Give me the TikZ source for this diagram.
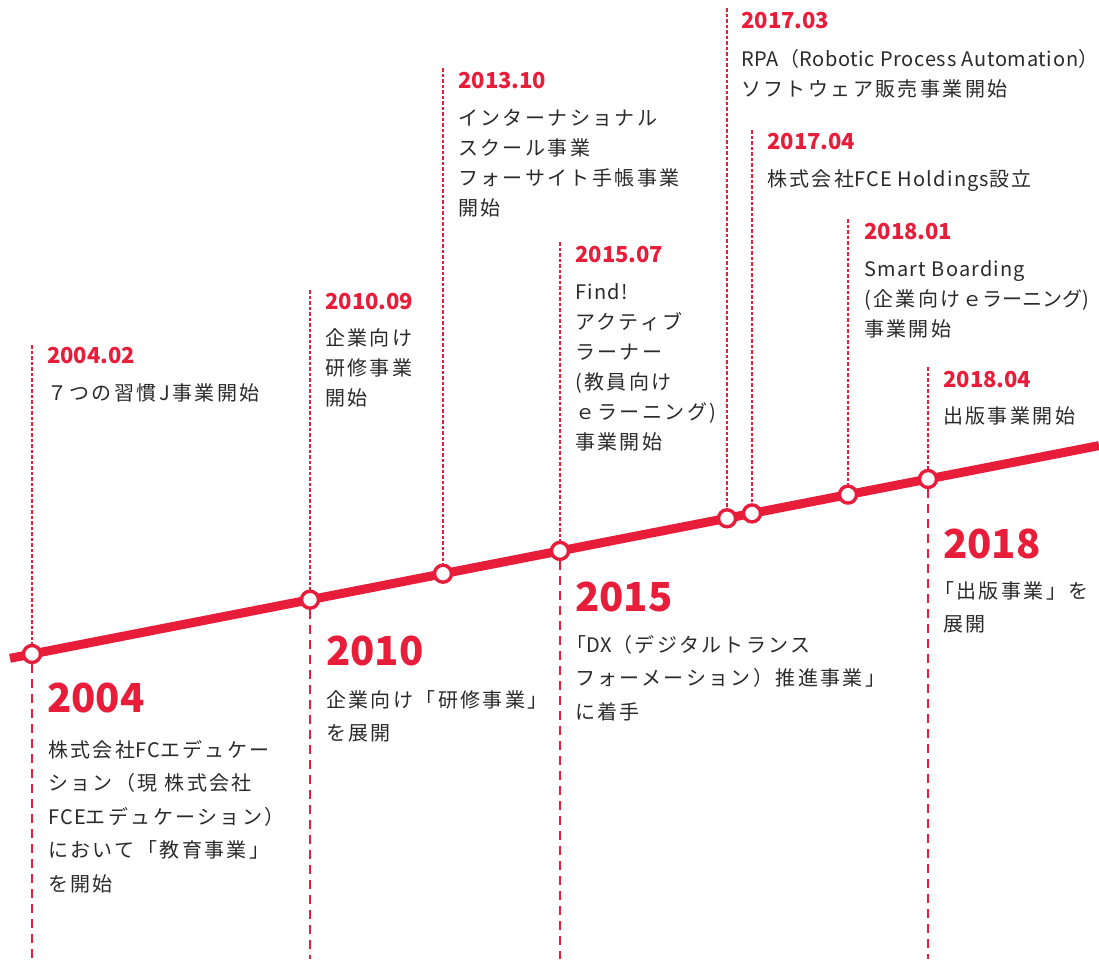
\documentclass[tikz,border=0pt]{standalone}
\usepackage{fontspec}
\setmainfont{Noto Sans CJK JP}
\newfontfamily\bodyfont[LetterSpace=12]{Noto Sans CJK JP}
\newfontfamily\latinfont[LetterSpace=6]{Noto Sans CJK JP}
\newfontfamily\latintight[LetterSpace=3.5]{Noto Sans CJK JP}
\newfontfamily\plainfont{Noto Sans CJK JP}
\newcommand\ltn[1]{{\latinfont #1}}
\newcommand\ltt[1]{{\latintight #1}}
\newcommand\pln[1]{{\plainfont #1}}
\usetikzlibrary{backgrounds}
\definecolor{tred}{HTML}{E71D3A}
\definecolor{ttext}{HTML}{2A2A2A}
\tikzset{
  dot/.style={circle, draw=tred, fill=white, line width=3.4pt, minimum size=17pt, inner sep=0pt},
  mainline/.style={draw=tred, line width=9pt},
  updash/.style={draw=tred, line width=1.3pt, dash pattern=on 3.5pt off 2pt},
  downdash/.style={draw=tred, line width=2.6pt, dash pattern=on 9pt off 6pt},
  datelbl/.style={anchor=base west, inner sep=0pt, text=tred, font=\fontsize{22}{22}\selectfont\bfseries},
  yearlbl/.style={anchor=base west, inner sep=0pt, text=tred, font=\fontsize{40}{40}\selectfont\bfseries},
  uptext/.style={anchor=base west, inner sep=0pt, text=ttext, align=left, font=\bodyfont\fontsize{20}{30}\selectfont},
  downtext/.style={anchor=base west, inner sep=0pt, text=ttext, align=left, font=\bodyfont\fontsize{20}{33.5}\selectfont},
}
\begin{document}
\begin{tikzpicture}[x=1pt, y=-1pt]
\useasboundingbox (0,0) rectangle (1099,959);
% main line end points
\coordinate (L) at (10,658.3);
\coordinate (R) at (1099,445.6);
% dots on the line
\node[dot] (c04) at (32,654.0) {};
\node[dot] (c10) at (310,599.7) {};
\node[dot] (c13) at (443,573.7) {};
\node[dot] (c15) at (560,550.9) {};
\node[dot] (c1703) at (727,518.3) {};
\node[dot] (c1704) at (752,513.4) {};
\node[dot] (c1801) at (848,494.6) {};
\node[dot] (c1804) at (928,479.0) {};
% top ends of upper dashed lines
\coordinate (t04) at (32,345);
\coordinate (t10) at (310,290);
\coordinate (t13) at (443,68);
\coordinate (t15) at (560,242);
\coordinate (t1703) at (727,8);
\coordinate (t1704) at (752,130);
\coordinate (t1801) at (848,219);
\coordinate (t1804) at (928,367);
% bottom ends of lower dashed lines
\coordinate (b04) at (32,959);
\coordinate (b10) at (310,959);
\coordinate (b15) at (560,959);
\coordinate (b18) at (928,959);
\begin{scope}[on background layer]
  \draw[updash] (t04) -- (c04.center);
  \draw[updash] (t10) -- (c10.center);
  \draw[updash] (t13) -- (c13.center);
  \draw[updash] (t15) -- (c15.center);
  \draw[updash] (t1703) -- (c1703.center);
  \draw[updash] (t1704) -- (c1704.center);
  \draw[updash] (t1801) -- (c1801.center);
  \draw[updash] (t1804) -- (c1804.center);
  \draw[downdash] (c04) -- (b04);
  \draw[downdash] (c10) -- (b10);
  \draw[downdash] (c15) -- (b15);
  \draw[downdash] (c1804) -- (b18);
  \draw[mainline] (L) -- (R);
\end{scope}
% date labels
\node[datelbl] (d0402) at (47,363) {2004.02};
\node[datelbl] (d1009) at (325,309) {2010.09};
\node[datelbl] (d1310) at (458,88) {2013.10};
\node[datelbl] (d1507) at (575,262) {2015.07};
\node[datelbl] (d1703) at (741,28) {2017.03};
\node[datelbl] (d1704) at (767,149) {2017.04};
\node[datelbl] (d1801) at (864,239) {2018.01};
\node[datelbl] (d1804) at (943,387) {2018.04};
% upper texts (anchor = baseline of last line)
\node[uptext] (u0402) at (47,400) {７つの習慣J事業開始};
\node[uptext] (u1009) at (325,405) {企業向け\\研修事業\\開始};
\node[uptext] (u1310) at (458,215) {インターナショナル\\スクール事業\\フォーサイト手帳事業\\開始};
\node[uptext] (u1507) at (575,449) {\ltn{Find!}\\アクティブ\\ラーナー\\(教員向け\\ｅラーニング)\\事業開始};
\node[uptext] (u1703) at (741,96) {\ltt{RPA}（\ltt{Robotic Process Automation}）\\ソフトウェア販売事業開始};
\node[uptext] (u1704) at (767,186) {株式会社\ltn{FCE Holdings}設立};
\node[uptext] (u1801) at (864,336) {\ltn{Smart Boarding}\\(企業向けｅ\pln{ラーニング})\\事業開始};
\node[uptext] (u1804) at (943,423) {出版事業開始};
% years
\node[yearlbl] (y04) at (47,712) {2004};
\node[yearlbl] (y10) at (326,665) {2010};
\node[yearlbl] (y15) at (575,611) {2015};
\node[yearlbl] (y18) at (943,558) {2018};
% lower texts (anchor = baseline of last line)
\node[downtext] (l04) at (48,891) {株式会社\ltn{FC}エデュケー\\ション（現 株式会社\\\ltn{FCE}エデュケーション）\\において「教育事業」\\を開始};
\node[downtext] (l10) at (326,740.5) {企業向け「研修事業」\\を展開};
\node[downtext] (l15) at (575,719) {\kern-9pt「\ltn{DX}（デジタルトランス\\フォーメーション）推進事業」\\に着手};
\node[downtext] (l18) at (943,631.5) {\kern-9pt「出版事業」を\\展開};
\end{tikzpicture}
\end{document}
